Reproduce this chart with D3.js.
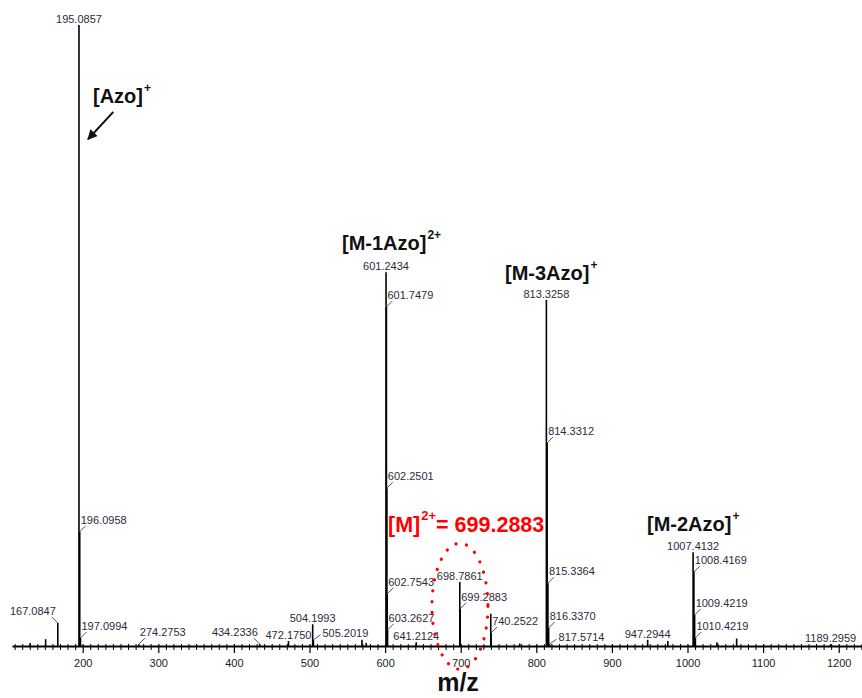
<!DOCTYPE html>
<html>
<head>
<meta charset="utf-8">
<script src="https://cdn.jsdelivr.net/npm/d3@7"></script>
<style>
  body { margin: 0; background: #fff; }
  svg { display: block; }
</style>
</head>
<body>
<svg id="chart" width="862" height="698"></svg>
<script>
// ---------- data ----------
// m/z of each stick
const peakMz = [130.5, 151.0, 167.0847, 195.0857, 196.0958, 197.0994, 274.2753, 434.2336,
  472.1750, 504.1993, 505.2019, 569.4, 575.0, 601.2434, 601.7479, 602.2501, 602.7543,
  603.2627, 641.2124, 698.7861, 699.2883, 739.75, 740.2522, 778.0, 813.3258, 814.3312,
  815.3364, 816.3370, 817.5714, 947.2944, 974.0, 1007.4132, 1008.4169, 1009.4219,
  1010.4219, 1039.0, 1065.0, 1189.2959];
// relative intensity (%)
const peakInt = [0.5, 1.1, 3.7, 100, 18.4, 1.3, 0.3, 0.3,
  0.8, 3.5, 1.0, 1.0, 0.5, 60.2, 54.6, 25.4, 8.4,
  2.6, 0.6, 10.3, 6.0, 5.2, 2.1, 0.4, 55.7, 32.7,
  10.1, 2.9, 0.3, 1.0, 0.8, 15.1, 11.9, 5.0,
  1.3, 0.6, 1.2, 0.3];
// peak labels (m/z text) that are printed
const labelText = ["167.0847", "195.0857", "196.0958", "197.0994", "274.2753", "434.2336",
  "472.1750", "504.1993", "505.2019", "601.2434", "601.7479", "602.2501", "602.7543",
  "603.2627", "641.2124", "698.7861", "699.2883", "740.2522", "813.3258", "814.3312",
  "815.3364", "816.3370", "817.5714", "947.2944", "1007.4132", "1008.4169", "1009.4219",
  "1010.4219", "1189.2959"];
const xTickValues = [200, 300, 400, 500, 600, 700, 800, 900, 1000, 1100, 1200];
const xAxisTitle = "m/z";
const ionNotes = [
  { main: "[Azo]", sup: "+" },
  { main: "[M-1Azo]", sup: "2+" },
  { main: "[M-3Azo]", sup: "+" },
  { main: "[M-2Azo]", sup: "+" }
];
const parentNote = { main: "[M]", sup: "2+", tail: "= 699.2883" };

// ---------- layout / style (not data) ----------
const labelPlacement = {   // how each label is attached to its stick
  "167.0847": "leftLead", "434.2336": "leftLead",
  "505.2019": "side", "817.5714": "side",
  "196.0958": "lead", "197.0994": "lead", "274.2753": "lead", "601.7479": "lead",
  "602.2501": "lead", "602.7543": "lead", "603.2627": "lead", "699.2883": "lead",
  "740.2522": "lead", "814.3312": "lead", "815.3364": "lead", "816.3370": "lead",
  "1008.4169": "lead", "1009.4219": "lead", "1010.4219": "lead"
};
const notePos = [ // [x px, baseline px]
  [93, 103], [342, 250], [505, 280], [647, 531]
];

const svg = d3.select("#chart");
const x = d3.scaleLinear().domain([106.5, 1230.8]).range([12, 862]);
const y = d3.scaleLinear().domain([0, 100]).range([646, 25]);
const labelFont = "Liberation Sans, Arial, sans-serif";
const labelColor = "#2b2b3b";

// ---------- axis ----------
const minor = d3.range(110, 1231, 10).filter(v => v % 100 !== 0);
const gMinor = svg.append("g").attr("transform", `translate(0,${y(0)})`)
  .call(d3.axisBottom(x).tickValues(minor).tickSize(4).tickFormat(""));
gMinor.select(".domain").remove();
gMinor.selectAll(".tick line").attr("y1", -2).attr("stroke", "#000").attr("stroke-width", 1);

const gMajor = svg.append("g").attr("transform", `translate(0,${y(0)})`)
  .call(d3.axisBottom(x).tickValues(xTickValues).tickFormat(d3.format("d"))
    .tickSize(7).tickSizeOuter(0).tickPadding(6));
gMajor.select(".domain").attr("stroke", "#000").attr("stroke-width", 2);
gMajor.selectAll(".tick line").attr("y1", -2).attr("stroke", "#000").attr("stroke-width", 1.2);
gMajor.selectAll(".tick text").attr("font-family", labelFont).attr("font-size", 11)
  .attr("fill", "#222").attr("dy", "0.71em");

svg.append("text").attr("x", 458).attr("y", 691).attr("text-anchor", "middle")
  .attr("font-family", labelFont).attr("font-weight", "bold").attr("font-size", 25)
  .attr("fill", "#111").text(xAxisTitle);

// ---------- sticks ----------
const peaks = peakMz.map((m, i) => ({ m, v: peakInt[i] }));
svg.append("g").selectAll("line").data(peaks).join("line")
  .attr("x1", d => x(d.m)).attr("x2", d => x(d.m))
  .attr("y1", y(0)).attr("y2", d => y(d.v))
  .attr("stroke", "#000").attr("stroke-width", 1.6);

// ---------- peak labels ----------
const gl = svg.append("g").attr("font-family", labelFont).attr("font-size", 11).attr("fill", labelColor);
labelText.forEach(t => {
  const m = +t;
  const idx = peakMz.findIndex(p => Math.abs(p - m) < 1e-6);
  const px = x(m), py = y(peakInt[idx]);
  const kind = labelPlacement[t] || "top";
  if (kind === "top") {
    gl.append("text").attr("x", px).attr("y", py - 2).attr("text-anchor", "middle").text(t);
  } else if (kind === "lead") {
    gl.append("line").attr("x1", px).attr("y1", py).attr("x2", px + 6).attr("y2", py - 6)
      .attr("stroke", "#555").attr("stroke-width", 1);
    gl.append("text").attr("x", px + 1).attr("y", py - 8).text(t);
  } else if (kind === "leftLead") {
    gl.append("line").attr("x1", px).attr("y1", py).attr("x2", px - 6).attr("y2", py - 6)
      .attr("stroke", "#555").attr("stroke-width", 1);
    gl.append("text").attr("x", px - 2).attr("y", py - 8).attr("text-anchor", "end").text(t);
  } else if (kind === "side") {
    gl.append("line").attr("x1", px).attr("y1", py).attr("x2", px + 7).attr("y2", py - 5)
      .attr("stroke", "#555").attr("stroke-width", 1);
    gl.append("text").attr("x", px + 9).attr("y", py - 3).text(t);
  }
});

// ---------- ion annotations ----------
const gn = svg.append("g").attr("font-family", labelFont).attr("font-weight", "bold").attr("fill", "#111");
ionNotes.forEach((n, i) => {
  const t = gn.append("text").attr("x", notePos[i][0]).attr("y", notePos[i][1]).attr("font-size", 20);
  t.append("tspan").text(n.main);
  t.append("tspan").attr("font-size", 12).attr("dy", -11).attr("dx", 1).text(n.sup);
});

// arrow pointing to the [Azo]+ peak
svg.append("defs").append("marker").attr("id", "ah").attr("viewBox", "0 0 10 10")
  .attr("refX", 9).attr("refY", 5).attr("markerWidth", 10).attr("markerHeight", 10)
  .attr("markerUnits", "userSpaceOnUse").attr("orient", "auto")
  .append("path").attr("d", "M0,0 L10,5 L0,10 Z").attr("fill", "#111");
svg.append("line").attr("x1", x(240.5)).attr("y1", y(86)).attr("x2", x(207)).attr("y2", y(81.6))
  .attr("stroke", "#111").attr("stroke-width", 2).attr("marker-end", "url(#ah)");

// parent ion annotation (red)
const pt = svg.append("text").attr("x", 388).attr("y", 532).attr("font-family", labelFont)
  .attr("font-weight", "bold").attr("font-size", 21.5).attr("fill", "#ff0000");
pt.append("tspan").text(parentNote.main);
pt.append("tspan").attr("font-size", 13).attr("dy", -12).attr("dx", 1).text(parentNote.sup);
pt.append("tspan").attr("dy", 12).text(parentNote.tail);

// red dotted loop around the [M]2+ cluster
svg.append("ellipse").attr("cx", x(699)).attr("cy", y(6.4)).attr("rx", 28).attr("ry", 63)
  .attr("fill", "none").attr("stroke", "#ff0000").attr("stroke-width", 3.2)
  .attr("stroke-linecap", "round").attr("stroke-dasharray", "0.1 10.8");
</script>
</body>
</html>
